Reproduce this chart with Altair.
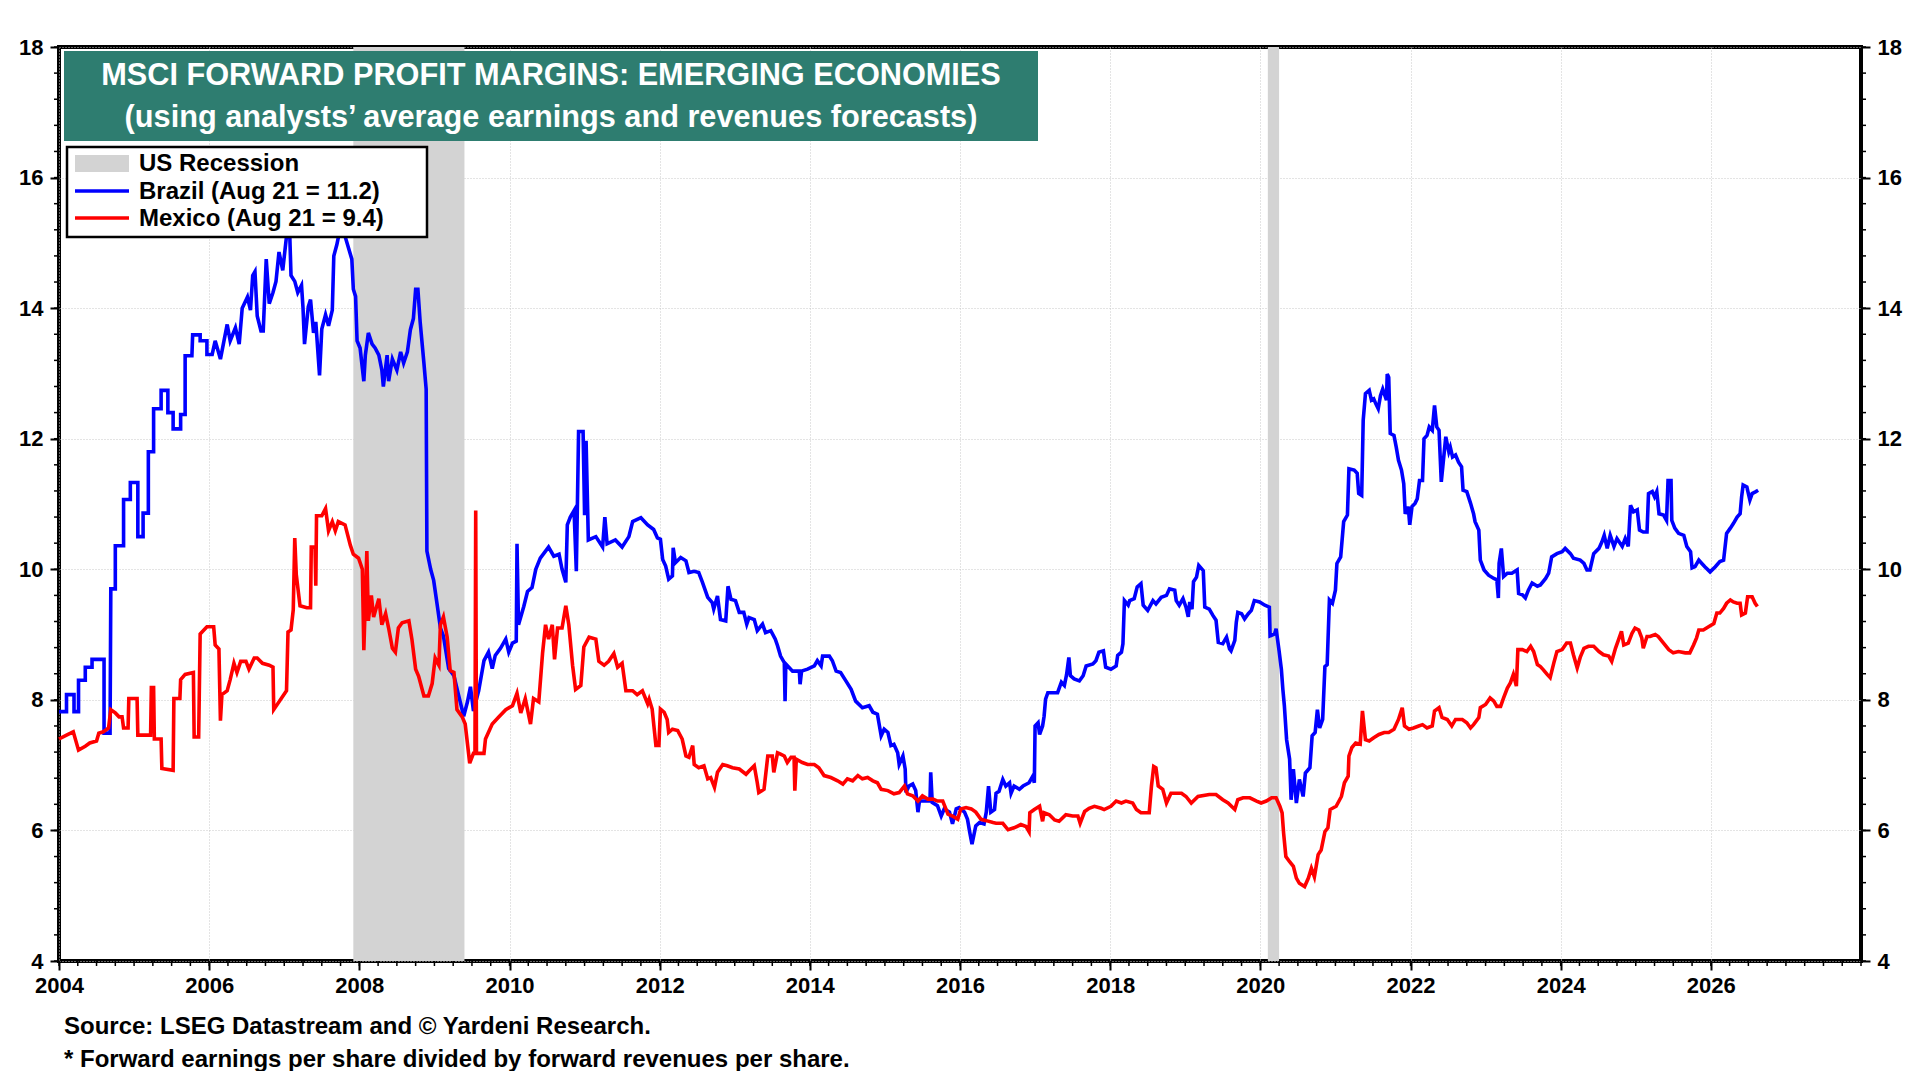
import altair as alt
import pandas as pd

W, H = 1802, 914
FONT = "Liberation Sans"

# ---------------- data ----------------
brazil_t = [2004.00, 2004.10, 2004.10, 2004.20, 2004.20, 2004.26, 2004.26, 2004.35, 2004.35, 2004.44,
            2004.44, 2004.60, 2004.60, 2004.68, 2004.69, 2004.75, 2004.75, 2004.86, 2004.86, 2004.95,
            2004.95, 2005.05, 2005.05, 2005.12, 2005.12, 2005.19, 2005.19, 2005.26, 2005.26, 2005.36,
            2005.36, 2005.45, 2005.45, 2005.52, 2005.52, 2005.62, 2005.62, 2005.68, 2005.68, 2005.77,
            2005.78, 2005.88, 2005.88, 2005.97, 2005.97, 2006.04, 2006.08, 2006.15, 2006.24, 2006.28,
            2006.35, 2006.40, 2006.44, 2006.51, 2006.55, 2006.58, 2006.61, 2006.64, 2006.69, 2006.72,
            2006.76, 2006.80, 2006.85, 2006.89, 2006.93, 2006.98, 2007.03, 2007.07, 2007.09, 2007.14,
            2007.18, 2007.23, 2007.25, 2007.27, 2007.32, 2007.35, 2007.39, 2007.42, 2007.47, 2007.50,
            2007.55, 2007.59, 2007.64, 2007.66, 2007.70, 2007.75,
            2007.81, 2007.90, 2007.92, 2007.95, 2007.97, 2008.01, 2008.06, 2008.08, 2008.12, 2008.17,
            2008.21, 2008.26, 2008.30, 2008.32, 2008.37, 2008.39, 2008.44, 2008.50, 2008.55, 2008.59,
            2008.64, 2008.68, 2008.72, 2008.75, 2008.78, 2008.81, 2008.86, 2008.89, 2008.90, 2008.95,
            2008.99, 2009.04, 2009.08, 2009.12, 2009.19, 2009.26, 2009.32, 2009.39, 2009.44, 2009.48,
            2009.52, 2009.59, 2009.66, 2009.72, 2009.77, 2009.81, 2009.88, 2009.95, 2009.99, 2010.04,
            2010.09, 2010.10, 2010.12, 2010.19, 2010.24, 2010.30, 2010.35, 2010.41, 2010.52, 2010.59,
            2010.66, 2010.70, 2010.75, 2010.77, 2010.81, 2010.86, 2010.89, 2010.92, 2010.98, 2011.00,
            2011.02, 2011.05, 2011.15, 2011.24, 2011.27, 2011.30, 2011.41, 2011.50, 2011.59, 2011.64,
            2011.75, 2011.84,
            2011.92, 2011.97, 2012.01, 2012.04, 2012.08, 2012.12, 2012.17, 2012.18, 2012.21, 2012.28,
            2012.35, 2012.39, 2012.46, 2012.52, 2012.57, 2012.64, 2012.70, 2012.72, 2012.77, 2012.81,
            2012.88, 2012.91, 2012.95, 2013.01, 2013.06, 2013.12, 2013.16, 2013.19, 2013.26, 2013.30,
            2013.37, 2013.41, 2013.48, 2013.54, 2013.57, 2013.61, 2013.66, 2013.67, 2013.68, 2013.77,
            2013.86, 2013.87, 2013.89, 2013.97, 2014.06, 2014.10, 2014.15, 2014.17, 2014.26, 2014.30,
            2014.35, 2014.41, 2014.48, 2014.55, 2014.61, 2014.70, 2014.79, 2014.84, 2014.90, 2014.95,
            2014.99, 2015.04, 2015.08, 2015.12, 2015.17, 2015.19, 2015.24, 2015.27, 2015.28, 2015.32,
            2015.37, 2015.41, 2015.44, 2015.46, 2015.55, 2015.60, 2015.61, 2015.63, 2015.70, 2015.75,
            2015.79, 2015.86, 2015.90, 2015.95, 2015.99, 2016.06, 2016.10, 2016.13, 2016.16, 2016.21,
            2016.26, 2016.32, 2016.35, 2016.38, 2016.41,
            2016.46, 2016.48, 2016.52, 2016.57, 2016.61, 2016.66, 2016.68, 2016.72, 2016.79, 2016.84,
            2016.92, 2016.97, 2016.99, 2017.00, 2017.04, 2017.06, 2017.10, 2017.12, 2017.14, 2017.17,
            2017.30, 2017.35, 2017.39, 2017.42, 2017.45, 2017.47, 2017.52, 2017.59, 2017.64, 2017.68,
            2017.77, 2017.81, 2017.85, 2017.91, 2017.94, 2018.01, 2018.08, 2018.10, 2018.15, 2018.17,
            2018.19, 2018.24, 2018.26, 2018.32, 2018.36, 2018.41, 2018.44, 2018.50, 2018.57, 2018.61,
            2018.68, 2018.75, 2018.79, 2018.86, 2018.88, 2018.92, 2018.97, 2019.01, 2019.04, 2019.06,
            2019.09, 2019.11, 2019.15, 2019.18, 2019.24, 2019.26, 2019.32, 2019.37, 2019.41, 2019.44,
            2019.50, 2019.55, 2019.59, 2019.61, 2019.66, 2019.68, 2019.70, 2019.75, 2019.79, 2019.84,
            2019.88, 2019.92, 2019.99, 2020.06, 2020.12, 2020.13, 2020.19, 2020.21, 2020.25, 2020.28,
            2020.30, 2020.32, 2020.35, 2020.39, 2020.41, 2020.44, 2020.48, 2020.52, 2020.57, 2020.60,
            2020.66,
            2020.69, 2020.73, 2020.76, 2020.79, 2020.83, 2020.86, 2020.89, 2020.92, 2020.96, 2021.00,
            2021.02, 2021.07, 2021.11, 2021.16, 2021.18, 2021.25, 2021.29, 2021.31, 2021.35, 2021.37,
            2021.40, 2021.45, 2021.48, 2021.51, 2021.54, 2021.57, 2021.60, 2021.63, 2021.68, 2021.69,
            2021.71, 2021.73, 2021.78, 2021.81, 2021.84, 2021.88, 2021.91, 2021.93, 2021.97, 2021.99,
            2022.02, 2022.06, 2022.09, 2022.12, 2022.16, 2022.18, 2022.22, 2022.25, 2022.29, 2022.32,
            2022.35, 2022.38, 2022.41, 2022.43, 2022.47, 2022.51, 2022.53, 2022.56, 2022.60, 2022.64,
            2022.68, 2022.70, 2022.75, 2022.80, 2022.84, 2022.86, 2022.91, 2022.93, 2022.98, 2023.04,
            2023.11, 2023.15, 2023.17, 2023.18, 2023.21, 2023.24, 2023.29, 2023.35, 2023.42, 2023.44,
            2023.49, 2023.53, 2023.57, 2023.62, 2023.69, 2023.73, 2023.80, 2023.84, 2023.88, 2023.95,
            2024.02, 2024.06, 2024.13, 2024.17, 2024.26, 2024.31, 2024.35, 2024.39, 2024.44, 2024.51,
            2024.55, 2024.58, 2024.62, 2024.66, 2024.71, 2024.75, 2024.82, 2024.86, 2024.90, 2024.93,
            2024.97, 2025.02, 2025.05, 2025.10, 2025.15, 2025.17, 2025.22, 2025.25, 2025.28, 2025.31,
            2025.37, 2025.41, 2025.43, 2025.47, 2025.48, 2025.52, 2025.57, 2025.64, 2025.68, 2025.73,
            2025.75, 2025.79, 2025.84, 2025.88, 2025.92, 2025.99, 2026.06, 2026.12, 2026.17, 2026.21,
            2026.26, 2026.30, 2026.35, 2026.39, 2026.41, 2026.43, 2026.48, 2026.52, 2026.55, 2026.60,
            2026.63]
brazil_v = [7.82, 7.82, 8.08, 8.08, 7.82, 7.82, 8.30, 8.30, 8.50, 8.50,
            8.62, 8.62, 7.49, 7.49, 9.70, 9.70, 10.36, 10.36, 11.07, 11.07,
            11.33, 11.33, 10.50, 10.50, 10.86, 10.86, 11.80, 11.80, 12.46, 12.46,
            12.74, 12.74, 12.40, 12.40, 12.15, 12.15, 12.37, 12.37, 13.27, 13.27,
            13.59, 13.59, 13.50, 13.50, 13.29, 13.29, 13.50, 13.22, 13.75, 13.50,
            13.70, 13.45, 14.00, 14.17, 13.97, 14.50, 14.56, 13.88, 13.65, 13.65,
            14.75, 14.07, 14.24, 14.41, 14.86, 14.58, 15.10, 15.25, 14.50, 14.41,
            14.24, 14.35, 14.00, 13.45, 14.02, 14.13, 13.62, 13.79, 12.97, 13.68,
            13.90, 13.73, 13.97, 14.80, 14.97, 15.25,
            15.10, 14.75, 14.29, 14.18, 13.50, 13.39, 12.88, 13.28, 13.62, 13.45,
            13.39, 13.28, 13.05, 12.80, 13.28, 12.88, 13.22, 13.05, 13.33, 13.16,
            13.33, 13.67, 13.84, 14.29, 14.29, 13.79, 13.16, 12.76, 10.28, 10.00,
            9.83, 9.43, 9.10, 8.98, 8.48, 8.37, 8.08, 7.75, 7.97, 8.20,
            7.83, 8.14, 8.60, 8.73, 8.48, 8.68, 8.79, 8.93, 8.73, 8.87,
            8.90, 10.39, 9.15, 9.43, 9.66, 9.72, 10.00, 10.17, 10.34, 10.20,
            10.23, 10.00, 9.80, 10.68, 10.80, 10.90, 9.97, 12.11, 12.11, 10.83,
            11.97, 10.45, 10.50, 10.34, 10.80, 10.39, 10.45, 10.34, 10.50, 10.73,
            10.79, 10.68,
            10.61, 10.48, 10.46, 10.15, 10.05, 9.85, 9.90, 10.33, 10.10, 10.18,
            10.13, 9.95, 9.97, 9.95, 9.80, 9.57, 9.49, 9.39, 9.59, 9.23,
            9.21, 9.74, 9.54, 9.52, 9.34, 9.34, 9.16, 9.26, 9.23, 9.06,
            9.16, 9.03, 9.06, 8.93, 8.83, 8.67, 8.57, 7.98, 8.55, 8.44,
            8.44, 8.24, 8.44, 8.47, 8.52, 8.60, 8.52, 8.67, 8.67, 8.60,
            8.44, 8.42, 8.29, 8.16, 7.98, 7.88, 7.91, 7.81, 7.78, 7.45,
            7.55, 7.50, 7.30, 7.32, 7.19, 7.01, 7.14, 6.94, 6.58, 6.68,
            6.71, 6.61, 6.28, 6.45, 6.45, 6.45, 6.89, 6.43, 6.38, 6.22,
            6.33, 6.28, 6.10, 6.33, 6.35, 6.28, 6.17, 5.97, 5.79, 6.07,
            6.12, 6.10, 6.28, 6.68, 6.28,
            6.32, 6.57, 6.60, 6.78, 6.68, 6.73, 6.57, 6.68, 6.63, 6.68,
            6.73, 6.83, 6.73, 7.60, 7.65, 7.47, 7.60, 7.75, 8.01, 8.11,
            8.11, 8.27, 8.22, 8.39, 8.65, 8.37, 8.32, 8.29, 8.37, 8.52,
            8.55, 8.60, 8.73, 8.75, 8.50, 8.47, 8.52, 8.68, 8.73, 8.86,
            9.52, 9.45, 9.52, 9.55, 9.73, 9.78, 9.45, 9.37, 9.52, 9.47,
            9.57, 9.60, 9.70, 9.68, 9.52, 9.45, 9.55, 9.42, 9.27, 9.50,
            9.39, 9.81, 9.88, 10.06, 9.98, 9.42, 9.39, 9.29, 9.22, 8.88,
            8.86, 8.96, 8.78, 8.75, 8.91, 9.19, 9.34, 9.32, 9.24, 9.32,
            9.37, 9.52, 9.50, 9.45, 9.42, 8.98, 9.01, 9.09, 8.75, 8.47,
            8.16, 7.91, 7.39, 7.09, 6.47, 6.94, 6.42, 6.78, 6.52, 6.88,
            6.96,
            7.45, 7.50, 7.85, 7.57, 7.70, 8.51, 8.54, 9.53, 9.48, 9.68,
            10.09, 10.19, 10.73, 10.83, 11.54, 11.52, 11.47, 11.16, 11.13, 12.28,
            12.69, 12.74, 12.59, 12.61, 12.53, 12.46, 12.66, 12.76, 12.59, 12.99,
            12.94, 12.08, 12.05, 11.87, 11.67, 11.52, 11.31, 10.85, 10.96, 10.68,
            10.96, 11.01, 11.08, 11.36, 11.36, 12.00, 12.05, 12.18, 12.13, 12.51,
            12.18, 12.13, 11.34, 11.57, 12.03, 11.80, 11.87, 11.72, 11.75, 11.64,
            11.57, 11.21, 11.19, 11.01, 10.85, 10.73, 10.60, 10.14, 9.99, 9.91,
            9.86, 9.84, 9.56, 10.09, 10.32, 9.89, 9.94, 9.94, 9.99, 9.63,
            9.61, 9.56, 9.68, 9.79, 9.74, 9.76, 9.86, 9.94, 10.19, 10.24,
            10.27, 10.32, 10.24, 10.17, 10.14, 10.09, 9.99, 9.99, 10.24, 10.32,
            10.42, 10.52, 10.32, 10.52, 10.35, 10.47, 10.35, 10.47, 10.35, 10.98,
            10.88, 10.91, 10.60, 10.57, 10.57, 11.16, 11.19, 11.11, 11.19, 10.85,
            10.83, 10.75, 11.36, 11.36, 10.75, 10.63, 10.55, 10.52, 10.35, 10.27,
            10.02, 10.04, 10.14, 10.09, 10.04, 9.96, 10.04, 10.12, 10.14, 10.55,
            10.63, 10.70, 10.80, 10.85, 11.11, 11.29, 11.26, 11.06, 11.16, 11.19,
            11.21]

mexico_t = [2004.00, 2004.10, 2004.19, 2004.26, 2004.35, 2004.41, 2004.50, 2004.53, 2004.59, 2004.66,
            2004.69, 2004.75, 2004.80, 2004.84, 2004.86, 2004.92, 2004.93, 2005.04, 2005.05, 2005.22,
            2005.23, 2005.26, 2005.27, 2005.36, 2005.37, 2005.52, 2005.53, 2005.61, 2005.62, 2005.68,
            2005.79, 2005.80, 2005.86, 2005.88, 2005.97, 2006.06, 2006.08, 2006.13, 2006.15, 2006.17,
            2006.24, 2006.28, 2006.33, 2006.37, 2006.42, 2006.49, 2006.53, 2006.60, 2006.64, 2006.71,
            2006.80, 2006.85, 2006.86, 2006.96, 2007.03, 2007.05, 2007.09, 2007.12, 2007.14, 2007.16,
            2007.21, 2007.30, 2007.35, 2007.36, 2007.41, 2007.42, 2007.43, 2007.50, 2007.55, 2007.59,
            2007.64, 2007.68,
            2007.72, 2007.81, 2007.88, 2007.92, 2007.99, 2008.04, 2008.06, 2008.10, 2008.12, 2008.16,
            2008.19, 2008.26, 2008.30, 2008.35, 2008.39, 2008.44, 2008.48, 2008.52, 2008.57, 2008.66,
            2008.70, 2008.75, 2008.79, 2008.86, 2008.92, 2008.97, 2009.01, 2009.06, 2009.08, 2009.12,
            2009.17, 2009.21, 2009.26, 2009.30, 2009.37, 2009.41, 2009.47, 2009.52, 2009.54, 2009.55,
            2009.56, 2009.66, 2009.68, 2009.77, 2009.86, 2009.95, 2010.04, 2010.10, 2010.15, 2010.21,
            2010.28, 2010.32, 2010.39, 2010.44, 2010.48, 2010.52, 2010.57, 2010.60, 2010.64, 2010.70,
            2010.75, 2010.79, 2010.84, 2010.88, 2010.95, 2010.99, 2011.06, 2011.15, 2011.19, 2011.26,
            2011.32, 2011.39, 2011.44, 2011.50, 2011.55, 2011.64, 2011.70, 2011.77, 2011.84,
            2011.86, 2011.90, 2011.95, 2011.99, 2012.01, 2012.06, 2012.10, 2012.12, 2012.17, 2012.24,
            2012.30, 2012.35, 2012.39, 2012.44, 2012.46, 2012.52, 2012.59, 2012.64, 2012.68, 2012.73,
            2012.77, 2012.84, 2012.90, 2012.97, 2013.06, 2013.15, 2013.19, 2013.26, 2013.30, 2013.32,
            2013.39, 2013.44, 2013.50, 2013.52, 2013.57, 2013.61, 2013.66, 2013.70, 2013.75, 2013.79,
            2013.80, 2013.82, 2013.90, 2013.97, 2014.06, 2014.12, 2014.19, 2014.28, 2014.37, 2014.44,
            2014.50, 2014.57, 2014.64, 2014.70, 2014.77, 2014.84, 2014.90, 2014.95, 2015.04, 2015.12,
            2015.19, 2015.26, 2015.30, 2015.37, 2015.44, 2015.50, 2015.57, 2015.64, 2015.70, 2015.77,
            2015.84, 2015.90, 2015.97, 2016.01, 2016.08, 2016.15, 2016.21, 2016.28, 2016.35, 2016.44,
            2016.48, 2016.57, 2016.64, 2016.72, 2016.81, 2016.88, 2016.92, 2016.93, 2016.99, 2017.06,
            2017.10, 2017.12, 2017.19, 2017.26, 2017.32, 2017.41, 2017.50, 2017.57, 2017.60, 2017.66,
            2017.72, 2017.79, 2017.88, 2017.92, 2018.01, 2018.08, 2018.15, 2018.21, 2018.30, 2018.35,
            2018.41, 2018.52, 2018.55, 2018.58, 2018.61, 2018.64, 2018.70, 2018.75, 2018.81, 2018.95,
            2019.01, 2019.08, 2019.17, 2019.32, 2019.41, 2019.50, 2019.57, 2019.66, 2019.70, 2019.77,
            2019.86, 2019.95, 2020.01, 2020.08, 2020.15, 2020.21, 2020.26, 2020.29, 2020.31, 2020.34,
            2020.39, 2020.44, 2020.48, 2020.52, 2020.59, 2020.64, 2020.68, 2020.72, 2020.77, 2020.81,
            2020.86, 2020.90, 2020.93, 2021.01, 2021.08, 2021.12, 2021.17,
            2021.18, 2021.22, 2021.27, 2021.33, 2021.36, 2021.40, 2021.45, 2021.51, 2021.58, 2021.65,
            2021.71, 2021.78, 2021.84, 2021.89, 2021.92, 2021.98, 2022.04, 2022.11, 2022.16, 2022.22,
            2022.29, 2022.32, 2022.38, 2022.42, 2022.49, 2022.55, 2022.60, 2022.69, 2022.75, 2022.80,
            2022.84, 2022.91, 2022.93, 2023.00, 2023.06, 2023.11, 2023.15, 2023.20, 2023.24, 2023.29,
            2023.33, 2023.37, 2023.41, 2023.43, 2023.49, 2023.55, 2023.60, 2023.64, 2023.69, 2023.73,
            2023.77, 2023.82, 2023.86, 2023.91, 2023.95, 2024.02, 2024.08, 2024.13, 2024.17, 2024.22,
            2024.26, 2024.31, 2024.37, 2024.44, 2024.51, 2024.57, 2024.64, 2024.68, 2024.73, 2024.77,
            2024.81, 2024.84, 2024.90, 2024.95, 2024.99, 2025.04, 2025.08, 2025.10, 2025.15, 2025.19,
            2025.26, 2025.30, 2025.37, 2025.44, 2025.50, 2025.57, 2025.66, 2025.72, 2025.77, 2025.81,
            2025.84, 2025.90, 2025.97, 2026.04, 2026.08, 2026.12, 2026.17, 2026.21, 2026.26, 2026.30,
            2026.35, 2026.39, 2026.41, 2026.46, 2026.49, 2026.55, 2026.59, 2026.62]
mexico_v = [7.40, 7.46, 7.51, 7.23, 7.29, 7.34, 7.37, 7.49, 7.51, 7.57,
            7.85, 7.80, 7.74, 7.74, 7.57, 7.57, 8.02, 8.02, 7.46, 7.46,
            8.19, 8.19, 7.40, 7.40, 6.95, 6.92, 8.02, 8.02, 8.31, 8.39,
            8.42, 7.43, 7.43, 9.01, 9.12, 9.12, 8.84, 8.78, 7.68, 8.08,
            8.14, 8.31, 8.56, 8.42, 8.59, 8.59, 8.47, 8.64, 8.64, 8.56,
            8.53, 8.50, 7.85, 8.02, 8.14, 9.04, 9.07, 9.38, 10.48, 9.92,
            9.44, 9.41, 9.41, 10.34, 10.34, 9.75, 10.82, 10.82, 10.93, 10.59,
            10.73, 10.59,
            10.73, 10.68, 10.37, 10.23, 10.17, 10.00, 8.76, 10.28, 9.21, 9.60,
            9.27, 9.55, 9.15, 9.32, 9.10, 8.79, 8.73, 9.10, 9.18, 9.21,
            8.93, 8.47, 8.36, 8.06, 8.06, 8.25, 8.64, 8.53, 9.15, 9.27,
            8.96, 8.45, 8.42, 7.85, 7.74, 7.63, 7.03, 7.18, 7.18, 10.90,
            7.18, 7.18, 7.40, 7.63, 7.74, 7.85, 7.91, 8.10, 7.80, 8.02,
            7.63, 8.02, 7.97, 8.71, 9.15, 8.93, 9.15, 8.62, 9.10, 9.10,
            9.44, 9.15, 8.53, 8.16, 8.22, 8.81, 8.96, 8.93, 8.59, 8.53,
            8.59, 8.71, 8.50, 8.56, 8.14, 8.14, 8.08, 8.14, 7.94,
            8.01, 7.86, 7.30, 7.30, 7.86, 7.81, 7.70, 7.50, 7.55, 7.53,
            7.40, 7.14, 7.12, 7.30, 7.01, 6.96, 6.99, 6.79, 6.81, 6.66,
            6.89, 7.01, 6.99, 6.96, 6.94, 6.86, 6.91, 6.99, 6.73, 6.58,
            6.63, 7.14, 7.14, 6.89, 7.19, 7.17, 7.14, 7.04, 7.12, 7.12,
            6.61, 7.09, 7.04, 7.01, 7.01, 6.96, 6.84, 6.81, 6.76, 6.71,
            6.79, 6.76, 6.84, 6.79, 6.81, 6.76, 6.73, 6.63, 6.61, 6.56,
            6.58, 6.68, 6.56, 6.53, 6.45, 6.53, 6.48, 6.48, 6.45, 6.45,
            6.25, 6.22, 6.17, 6.33, 6.35, 6.33, 6.28, 6.17, 6.15, 6.12,
            6.11, 6.11, 6.01, 6.04, 6.09, 6.06, 5.98, 6.27, 6.32, 6.37,
            6.14, 6.27, 6.24, 6.16, 6.14, 6.24, 6.22, 6.22, 6.11, 6.29,
            6.34, 6.37, 6.34, 6.32, 6.37, 6.45, 6.42, 6.45, 6.42, 6.32,
            6.27, 6.27, 6.68, 6.98, 6.96, 6.68, 6.63, 6.42, 6.57, 6.57,
            6.52, 6.42, 6.52, 6.55, 6.55, 6.47, 6.42, 6.32, 6.47, 6.50,
            6.50, 6.45, 6.42, 6.45, 6.50, 6.50, 6.37, 6.27, 5.96, 5.60,
            5.52, 5.45, 5.27, 5.19, 5.14, 5.27, 5.42, 5.29, 5.63, 5.70,
            5.98, 6.04, 6.32, 6.37, 6.52, 6.73, 6.83,
            7.14, 7.27, 7.34, 7.32, 7.83, 7.39, 7.37, 7.42, 7.47, 7.50,
            7.50, 7.55, 7.70, 7.88, 7.60, 7.55, 7.57, 7.60, 7.62, 7.57,
            7.60, 7.83, 7.88, 7.73, 7.70, 7.60, 7.70, 7.70, 7.65, 7.57,
            7.62, 7.73, 7.88, 7.93, 8.03, 7.98, 7.90, 7.90, 8.03, 8.18,
            8.26, 8.39, 8.21, 8.77, 8.77, 8.74, 8.82, 8.74, 8.54, 8.51,
            8.46, 8.39, 8.34, 8.57, 8.74, 8.77, 8.87, 8.87, 8.69, 8.49,
            8.65, 8.79, 8.82, 8.82, 8.74, 8.69, 8.67, 8.59, 8.79, 8.92,
            9.05, 8.84, 8.87, 9.02, 9.10, 9.07, 8.95, 8.79, 8.97, 8.97,
            9.00, 8.97, 8.87, 8.77, 8.72, 8.74, 8.72, 8.72, 8.84, 8.95,
            9.07, 9.07, 9.12, 9.17, 9.33, 9.33, 9.40, 9.48, 9.53, 9.50,
            9.48, 9.48, 9.30, 9.33, 9.58, 9.58, 9.48, 9.43]

recession_start = [2007.92, 2020.10]
recession_end = [2009.40, 2020.25]

x_major = [2004, 2006, 2008, 2010, 2012, 2014, 2016, 2018, 2020, 2022, 2024, 2026]
x_minor = [2004 + 0.25 * i for i in range(97)]
y_major = [4, 6, 8, 10, 12, 14, 16, 18]
y_minor = [round(4 + 0.4 * i, 1) for i in range(36)]

title_lines = ["MSCI FORWARD PROFIT MARGINS: EMERGING ECONOMIES",
               "(using analysts\u2019 average earnings and revenues forecasts)"]
legend_labels = ["US Recession", "Brazil (Aug 21 = 11.2)", "Mexico (Aug 21 = 9.4)"]
footnotes = ["Source: LSEG Datastream and \u00a9 Yardeni Research.",
             "* Forward earnings per share divided by forward revenues per share."]

# ---------------- frames ----------------
brazil = pd.DataFrame({"t": brazil_t, "v": brazil_v, "i": range(len(brazil_t))})
mexico = pd.DataFrame({"t": mexico_t, "v": mexico_v, "i": range(len(mexico_t))})
rec = pd.DataFrame({"t": recession_start, "t2": recession_end})
xminor = pd.DataFrame({"t": x_minor})
yminor = pd.DataFrame({"v": y_minor})
one = pd.DataFrame({"a": [0]})

xscale = alt.Scale(domain=[2004, 2028], nice=False, zero=False)
yscale = alt.Scale(domain=[4, 18], nice=False, zero=False)

xaxis = alt.Axis(values=x_major, format="d", title=None, grid=True, gridColor="#c8c8c8",
                 gridDash=[1, 2], gridWidth=1, domain=False, tickColor="black", tickWidth=2,
                 tickSize=9, labelFont=FONT, labelFontSize=22, labelFontWeight="bold",
                 labelColor="black", labelPadding=5, labelFlush=False)
yaxis_left = alt.Axis(values=y_major, format="d", title=None, grid=True, gridColor="#c8c8c8",
                      gridDash=[1, 2], gridWidth=1, domain=False, tickColor="black", tickWidth=2,
                      tickSize=9, labelFont=FONT, labelFontSize=22, labelFontWeight="bold",
                      labelColor="black", labelPadding=7, orient="left")
yaxis_right = alt.Axis(values=y_major, format="d", title=None, grid=False, domain=False,
                       tickColor="black", tickWidth=2, tickSize=9, labelFont=FONT,
                       labelFontSize=22, labelFontWeight="bold", labelColor="black",
                       labelPadding=7, orient="right")

X = alt.X("t:Q", scale=xscale, axis=xaxis)

recession = alt.Chart(rec).mark_rect(color="#d3d3d3").encode(
    x=X, x2="t2:Q", y=alt.value(0), y2=alt.value(H))

brazil_line = alt.Chart(brazil).mark_line(color="#0000FF", strokeWidth=3.6, strokeJoin="miter").encode(
    x=X, y=alt.Y("v:Q", scale=yscale, axis=yaxis_left), order="i:Q")

mexico_line = alt.Chart(mexico).mark_line(color="#FF0000", strokeWidth=3.6, strokeJoin="miter").encode(
    x=X, y=alt.Y("v:Q", scale=yscale, axis=None), order="i:Q")

x_minor_ticks = alt.Chart(xminor).mark_rule(color="black", strokeWidth=1.5).encode(
    x=X, y=alt.value(H), y2=alt.value(H + 5))

y_minor_left = alt.Chart(yminor).mark_rule(color="black", strokeWidth=1.5).encode(
    y=alt.Y("v:Q", scale=yscale, axis=None), x=alt.value(-5), x2=alt.value(0))

y_minor_right = alt.Chart(yminor).mark_rule(color="black", strokeWidth=1.5).encode(
    y=alt.Y("v:Q", scale=yscale, axis=yaxis_right), x=alt.value(W), x2=alt.value(W + 5))

# title box
title_box = alt.Chart(one).mark_rect(color="#2E7D70").encode(
    x=alt.value(5), x2=alt.value(979), y=alt.value(4), y2=alt.value(94))
title1 = alt.Chart(one).mark_text(text=title_lines[0], font=FONT, fontSize=30.7, fontWeight="bold",
                                  color="white", align="center", baseline="alphabetic").encode(
    x=alt.value(492), y=alt.value(38))
title2 = alt.Chart(one).mark_text(text=title_lines[1], font=FONT, fontSize=30.7, fontWeight="bold",
                                  color="white", align="center", baseline="alphabetic").encode(
    x=alt.value(492), y=alt.value(80))

# legend
leg_box = alt.Chart(one).mark_rect(fill="white", stroke="black", strokeWidth=2.5).encode(
    x=alt.value(8), x2=alt.value(368), y=alt.value(100), y2=alt.value(190))
leg_swatch = alt.Chart(one).mark_rect(color="#d3d3d3").encode(
    x=alt.value(16), x2=alt.value(70), y=alt.value(108), y2=alt.value(125))
leg_blue = alt.Chart(one).mark_rule(color="#0000FF", strokeWidth=3.6).encode(
    x=alt.value(16), x2=alt.value(70), y=alt.value(144))
leg_red = alt.Chart(one).mark_rule(color="#FF0000", strokeWidth=3.6).encode(
    x=alt.value(16), x2=alt.value(70), y=alt.value(171))
leg_texts = [
    alt.Chart(one).mark_text(text=lab, font=FONT, fontSize=24, fontWeight="bold", color="black",
                             align="left", baseline="middle").encode(x=alt.value(80), y=alt.value(yy))
    for lab, yy in zip(legend_labels, [117, 145, 172])
]

# footnotes
foot = [
    alt.Chart(one).mark_text(text=txt, font=FONT, fontSize=24, fontWeight="bold", color="black",
                             align="left", baseline="middle").encode(x=alt.value(5), y=alt.value(yy))
    for txt, yy in zip(footnotes, [980, 1013])
]

chart = alt.layer(
    recession, x_minor_ticks, y_minor_left, y_minor_right, brazil_line, mexico_line,
    title_box, title1, title2, leg_box, leg_swatch, leg_blue, leg_red, *leg_texts, *foot
).resolve_axis(y="independent").properties(
    width=W, height=H,
    autosize=alt.AutoSizeParams(type="none"),
    padding={"left": 51, "top": 39, "right": 50, "bottom": 110},
    background="white",
).configure_view(stroke="black", strokeWidth=4)

chart.save("out.html", embed_options={"renderer": "svg", "actions": False})
